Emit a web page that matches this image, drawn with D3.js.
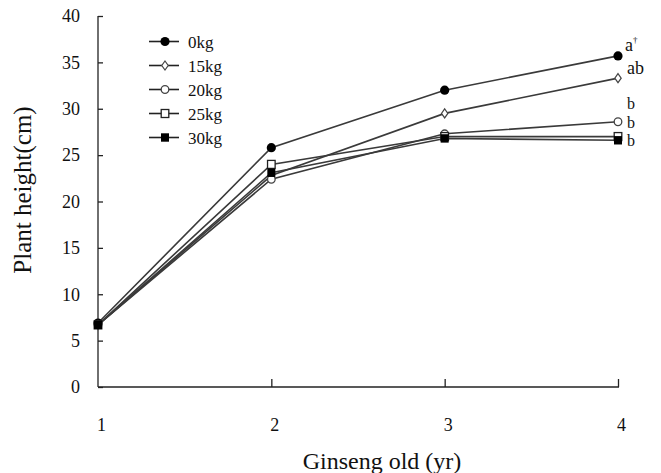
<!DOCTYPE html>
<html>
<head>
<meta charset="utf-8">
<script src="https://cdn.jsdelivr.net/npm/d3@7"></script>
<style>
body{margin:0;background:#fff;}
svg text{font-family:"Times New Roman","Liberation Serif",Tinos,serif !important;fill:#111;}
</style>
</head>
<body>
<svg class="chart"></svg>
<script>
var years = [1, 2, 3, 4];
var seriesNames = ["0kg", "15kg", "20kg", "25kg", "30kg"];
var v0 = [6.9, 25.8, 32.0, 35.7];
var v15 = [6.7, 22.8, 29.5, 33.3];
var v20 = [6.7, 22.4, 27.3, 28.6];
var v25 = [6.7, 24.0, 27.0, 27.0];
var v30 = [6.7, 23.1, 26.8, 26.6];
var letters = ["a", "ab", "b", "b", "b"];
var yTicks = [0, 5, 10, 15, 20, 25, 30, 35, 40];

var drawChart = function(w,h,c)
{
  var svg = d3.select(c)
              .attr("width",w)
              .attr("height",h);

  var xScale = d3.scaleLinear()
                 .domain([1,4])
                 .range([98,618]);
  var yScale = d3.scaleLinear()
                 .domain([0,40])
                 .range([387,16]);

  var series = [v0, v15, v20, v25, v30].map(function(vals,i){
    return {name:seriesNames[i], values:vals.map(function(v,j){return {x:years[j], y:v};})};
  });

  // axes
  var yAxis = d3.axisLeft(yScale).tickValues(yTicks).tickSize(-5).tickPadding(18);
  var gy = svg.append("g").attr("transform","translate(" + xScale(1) + ",0)").call(yAxis);
  gy.select(".domain").attr("d","M0," + yScale(40) + "V" + yScale(0)).attr("stroke","#222").attr("stroke-width",1.3);
  gy.selectAll(".tick line").attr("stroke","#222").attr("stroke-width",1.3);
  gy.selectAll(".tick text").attr("font-size","18px").attr("fill","#111");

  var xAxis = d3.axisBottom(xScale).tickValues(years).tickFormat(d3.format("d")).tickSize(-8).tickPadding(31);
  var gx = svg.append("g").attr("transform","translate(0," + yScale(0) + ")").call(xAxis);
  gx.select(".domain").attr("d","M" + xScale(1) + ",0H" + (xScale(4)+1)).attr("stroke","#222").attr("stroke-width",1.3);
  gx.selectAll(".tick line").attr("stroke","#222").attr("stroke-width",1.3)
    .filter(function(d){return d==1;}).remove();
  gx.selectAll(".tick text").attr("font-size","18px").attr("fill","#111")
    .attr("dx",3);

  svg.append("text").attr("x",382).attr("y",469).attr("text-anchor","middle")
     .attr("font-size","24px").text("Ginseng old (yr)");
  svg.append("text").attr("transform","translate(31,190) rotate(-90)").attr("text-anchor","middle")
     .attr("font-size","25px").text("Plant height(cm)");

  var drawLine = d3.line()
                   .x(function(d){return xScale(d.x);})
                   .y(function(d){return yScale(d.y);});

  var lineColor = "#3a3a3a";
  svg.append("g").selectAll("path").data(series).enter().append("path")
     .attr("d",function(d){return drawLine(d.values);})
     .attr("fill","none").attr("stroke",lineColor).attr("stroke-width",1.6);

  var drawMarker = function(g,k,x,y)
  {
    if(k==0){
      g.append("circle").attr("cx",x).attr("cy",y).attr("r",4.6).attr("fill","#000");
    } else if(k==1){
      g.append("path").attr("d","M"+x+","+(y-4.5)+"L"+(x+3.2)+","+y+"L"+x+","+(y+4.5)+"L"+(x-3.2)+","+y+"Z")
       .attr("fill","#fff").attr("stroke","#444").attr("stroke-width",1.2);
    } else if(k==2){
      g.append("circle").attr("cx",x).attr("cy",y).attr("r",3.8).attr("fill","#fff").attr("stroke","#444").attr("stroke-width",1.3);
    } else if(k==3){
      g.append("rect").attr("x",x-3.8).attr("y",y-4).attr("width",7.6).attr("height",8)
       .attr("fill","#fff").attr("stroke","#222").attr("stroke-width",1.3);
    } else {
      g.append("rect").attr("x",x-4).attr("y",y-4.2).attr("width",8).attr("height",8.4).attr("fill","#000");
    }
  };

  var markers = svg.append("g");
  series.forEach(function(s,k){
    s.values.forEach(function(d){
      drawMarker(markers,k,xScale(d.x),yScale(d.y));
    });
  });

  // significance letters
  var letterY = [51, 74, 109, 127.5, 146];
  var lt = svg.append("g").selectAll("text").data(letters).enter().append("text")
     .attr("x",function(d,i){return i==0 ? 625 : 627;}).attr("y",function(d,i){return letterY[i];})
     .attr("font-size",function(d,i){return i<2 ? "18px" : "16px";}).text(function(d){return d;});
  lt.filter(function(d,i){return i==0;}).append("tspan")
     .attr("font-size","9px").attr("dy",-8).text("\u2020");

  // legend
  var legend = svg.append("g");
  seriesNames.forEach(function(n,i){
    var ly = 41.5 + i*24;
    legend.append("line").attr("x1",149).attr("x2",179).attr("y1",ly).attr("y2",ly)
          .attr("stroke","#222").attr("stroke-width",1.6);
    drawMarker(legend,i,165,ly);
    legend.append("text").attr("x",188).attr("y",ly+6).attr("font-size","17px").text(n);
  });
}

drawChart(661,473,".chart");
</script>
</body>
</html>
